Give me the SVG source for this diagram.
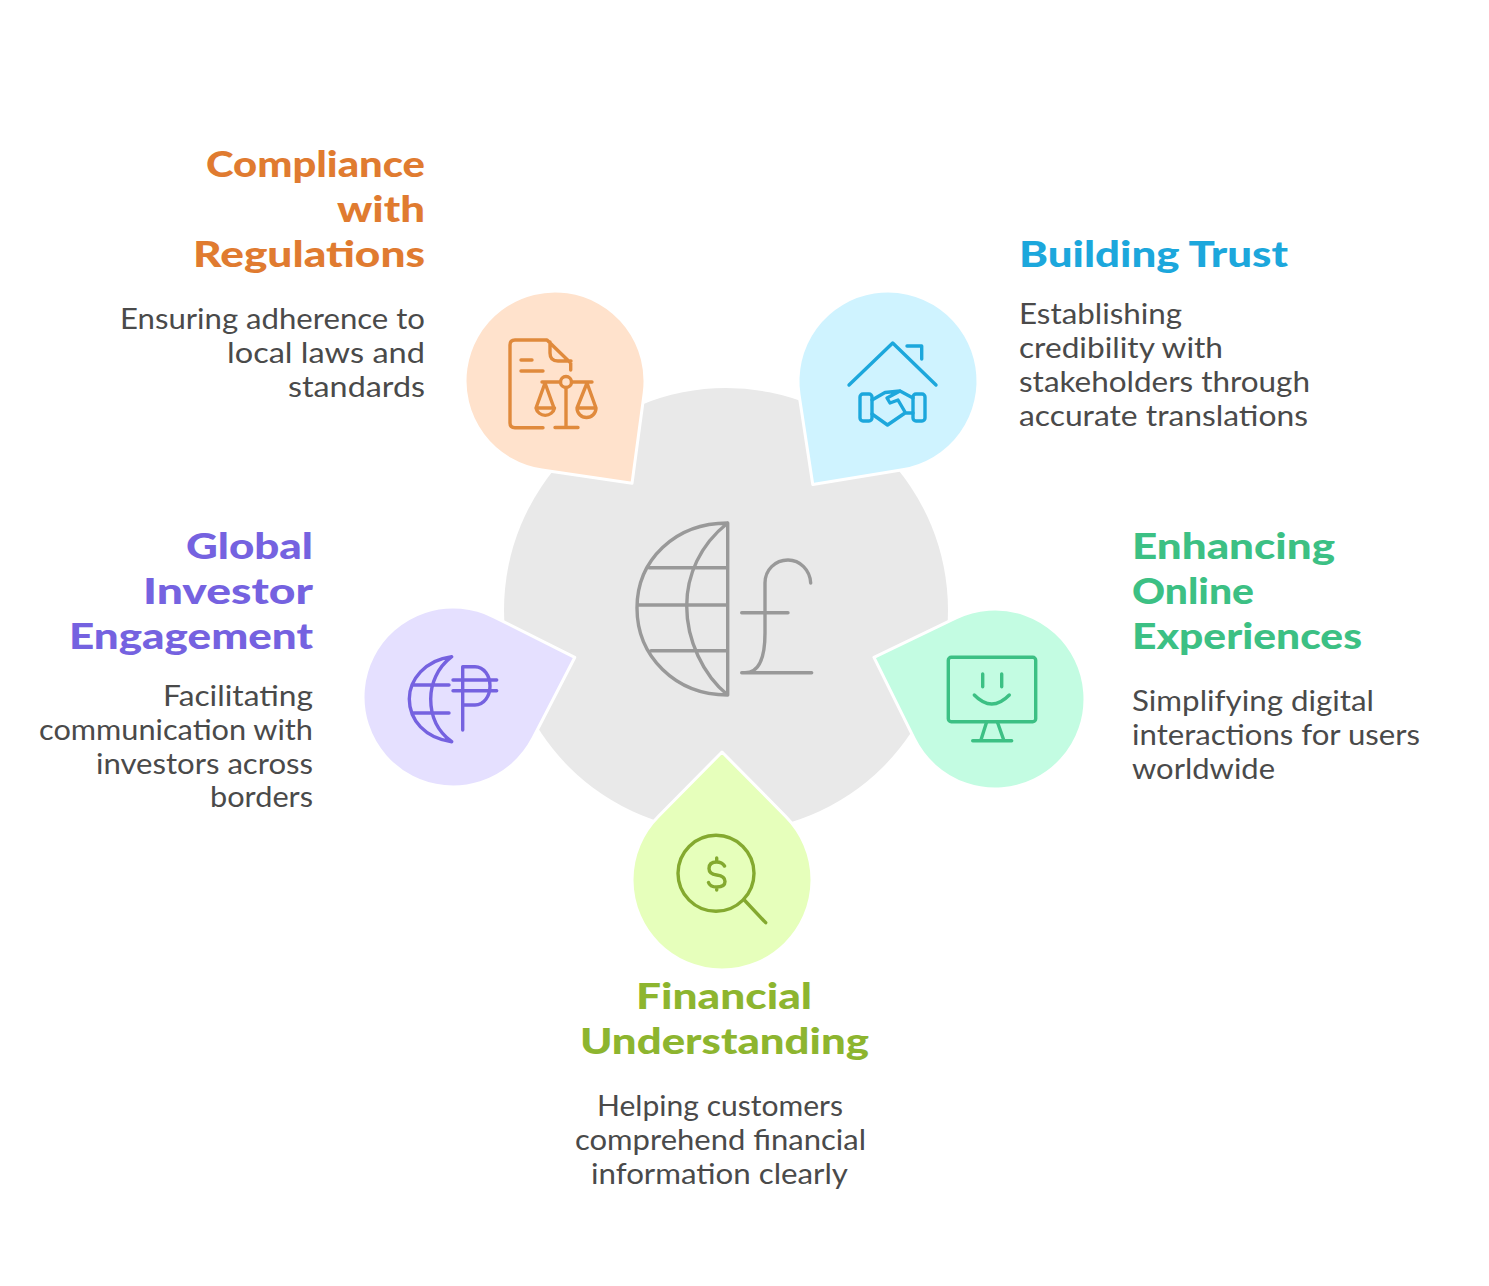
<svg xmlns="http://www.w3.org/2000/svg" width="1489" height="1286" viewBox="0 0 1489 1286">
<style>
.h{font-family:"Lato","Liberation Sans",sans-serif;font-weight:900;font-size:36px;transform:translateY(.5px)}
.b{font-family:"Lato","Liberation Sans",sans-serif;font-size:28px;fill:#4a4a4a;transform:translateY(.5px)}
.i{fill:none;stroke-width:3.4;stroke-linecap:round;stroke-linejoin:round}
.d{stroke:#fff;stroke-width:3;stroke-linejoin:round}
.or{fill:#e07b30}.bl{fill:#1ca7dc}.pu{fill:#7562e0}.mi{fill:#3cc084}.li{fill:#8db52f}
</style>
<defs><path id="drop" d="M128,0L63.300,64A90,90 0 1 1 63.300,-64Z"/></defs>
<rect width="1489" height="1286" fill="#fff"/>
<g id="hub">
<circle cx="726" cy="610" r="222" fill="#e9e9e9"/>
<g class="i" stroke="#999">
<path d="M727.700,523V695M727.700,523C675,523 637,560 637,608C637,656 675,695 727.700,695M727.700,523C700,545 686.700,575 686.700,606C686.700,640 703,675 727.700,695M649,567.700H727.700M637,605H727.700M651,650.700H727.700"/>
<path d="M810.700,583C810,570 800,560 788,560C775,560 765,570 765,583V633C765,655 760,672.700 745,672.700M741.700,672.700H811.700M741.700,612.700H788"/>
</g>
</g>
<g id="compliance">
<use href="#drop" class="d" fill="#ffe2cc" transform="translate(555,381) rotate(53)"/>
<g class="i" stroke="#e08a3c">
<path d="M543,427.700H515Q510,427.700 510,423V345Q510,340 515,340H547L570.700,363V370M550,342V353Q550,361 558,361H571M521,360H532M521,371H543M542,382H560.500M571.500,382H592M566,387.500V427M555,427.500H578M545,383L536,408H554ZM536,408A9.500,9.500 0 0 0 554.500,408M587,383L577,408H596ZM577,408A9.500,9.500 0 0 0 596,408"/>
<circle cx="566" cy="382" r="5.500"/>
</g>
<text class="h or" x="206" y="176" textLength="219" lengthAdjust="spacingAndGlyphs">Compliance</text>
<text class="h or" x="337" y="221" textLength="88" lengthAdjust="spacingAndGlyphs">with</text>
<text class="h or" x="193" y="266" textLength="232" lengthAdjust="spacingAndGlyphs">Regulations</text>
<text class="b" x="120" y="328" textLength="305" lengthAdjust="spacingAndGlyphs">Ensuring adherence to</text>
<text class="b" x="227" y="362" textLength="198" lengthAdjust="spacingAndGlyphs">local laws and</text>
<text class="b" x="288" y="396" textLength="137" lengthAdjust="spacingAndGlyphs">standards</text>
</g>
<g id="trust">
<use href="#drop" class="d" fill="#cff3ff" transform="translate(888,381) rotate(126)"/>
<g class="i" stroke="#1ca7dc">
<path d="M849,385L892.700,343L936,385M907,346H921.700V359"/>
<rect x="860" y="394" width="12" height="27" rx="3"/><rect x="913" y="394" width="12" height="27" rx="3"/>
<path d="M872,400L885,392.500L900,391L913,398M872,414L887.500,425L905,413H913M900,391L887,398L890,403L898,400L905,412"/>
</g>
<text class="h bl" x="1019" y="266" textLength="269" lengthAdjust="spacingAndGlyphs">Building Trust</text>
<text class="b" x="1019" y="323" textLength="163" lengthAdjust="spacingAndGlyphs">Establishing</text>
<text class="b" x="1019" y="357" textLength="204" lengthAdjust="spacingAndGlyphs">credibility with</text>
<text class="b" x="1019" y="391" textLength="291" lengthAdjust="spacingAndGlyphs">stakeholders through</text>
<text class="b" x="1019" y="425" textLength="289" lengthAdjust="spacingAndGlyphs">accurate translations</text>
</g>
<g id="online">
<use href="#drop" class="d" fill="#c3fce2" transform="translate(995,699) rotate(199)"/>
<g class="i" stroke="#3cc084">
<rect x="948.300" y="657.300" width="87.400" height="64.400" rx="3"/>
<path d="M982.700,674V686.700M1001.700,674V686.700M974.300,695Q991.700,713 1009.300,695M986.700,721.700L980.700,740.700M997.300,721.700L1004,740.700M972.700,740.700H1011.700"/>
</g>
<text class="h mi" x="1132" y="558" textLength="203" lengthAdjust="spacingAndGlyphs">Enhancing</text>
<text class="h mi" x="1132" y="603" textLength="122" lengthAdjust="spacingAndGlyphs">Online</text>
<text class="h mi" x="1132" y="648" textLength="230" lengthAdjust="spacingAndGlyphs">Experiences</text>
<text class="b" x="1132" y="710" textLength="242" lengthAdjust="spacingAndGlyphs">Simplifying digital</text>
<text class="b" x="1132" y="744" textLength="288" lengthAdjust="spacingAndGlyphs">interactions for users</text>
<text class="b" x="1132" y="778" textLength="143" lengthAdjust="spacingAndGlyphs">worldwide</text>
</g>
<g id="financial">
<use href="#drop" class="d" fill="#e6ffbb" transform="translate(722,880) rotate(-90)"/>
<g class="i" stroke="#84a92f">
<circle cx="716" cy="873.300" r="38"/>
<path d="M744.300,900L765.700,922.700M724.500,866Q722,862 716.700,862Q709,862 709,868.500Q709,874 716.700,875Q725,876 725,881.500Q725,887 716.700,887Q710,887 708.500,882.500M716.700,858V862M716.700,887V890"/>
</g>
<text class="h li" x="636" y="1008" textLength="176" lengthAdjust="spacingAndGlyphs">Financial</text>
<text class="h li" x="580" y="1053" textLength="289" lengthAdjust="spacingAndGlyphs">Understanding</text>
<text class="b" x="597" y="1115" textLength="246" lengthAdjust="spacingAndGlyphs">Helping customers</text>
<text class="b" x="575" y="1149" textLength="291" lengthAdjust="spacingAndGlyphs">comprehend financial</text>
<text class="b" x="591" y="1183" textLength="257" lengthAdjust="spacingAndGlyphs">information clearly</text>
</g>
<g id="global">
<use href="#drop" class="d" fill="#e5e0ff" transform="translate(453,697) rotate(-18)"/>
<g class="i" stroke="#7562e0">
<path d="M451.700,656.700C425,660 409.300,680 409.300,699C409.300,720 425,738 451.700,741.700M451.700,656.700C437,668 430.700,684 430.700,699C430.700,715 437,731 451.700,741.700M412.700,685H449M412.700,713H449"/>
<path d="M462.700,730V666.700H475C484,666.700 490,676 490,686C490,696 484,705 475,705H462.700M453,680H496.700M453,690.700H496.700"/>
</g>
<text class="h pu" x="186" y="558" textLength="127" lengthAdjust="spacingAndGlyphs">Global</text>
<text class="h pu" x="143" y="603" textLength="170" lengthAdjust="spacingAndGlyphs">Investor</text>
<text class="h pu" x="69" y="648" textLength="244" lengthAdjust="spacingAndGlyphs">Engagement</text>
<text class="b" x="163" y="705" textLength="150" lengthAdjust="spacingAndGlyphs">Facilitating</text>
<text class="b" x="39" y="739" textLength="274" lengthAdjust="spacingAndGlyphs">communication with</text>
<text class="b" x="96" y="773" textLength="217" lengthAdjust="spacingAndGlyphs">investors across</text>
<text class="b" x="210" y="806" textLength="103" lengthAdjust="spacingAndGlyphs">borders</text>
</g>
<g id="connectors"/>
</svg>
